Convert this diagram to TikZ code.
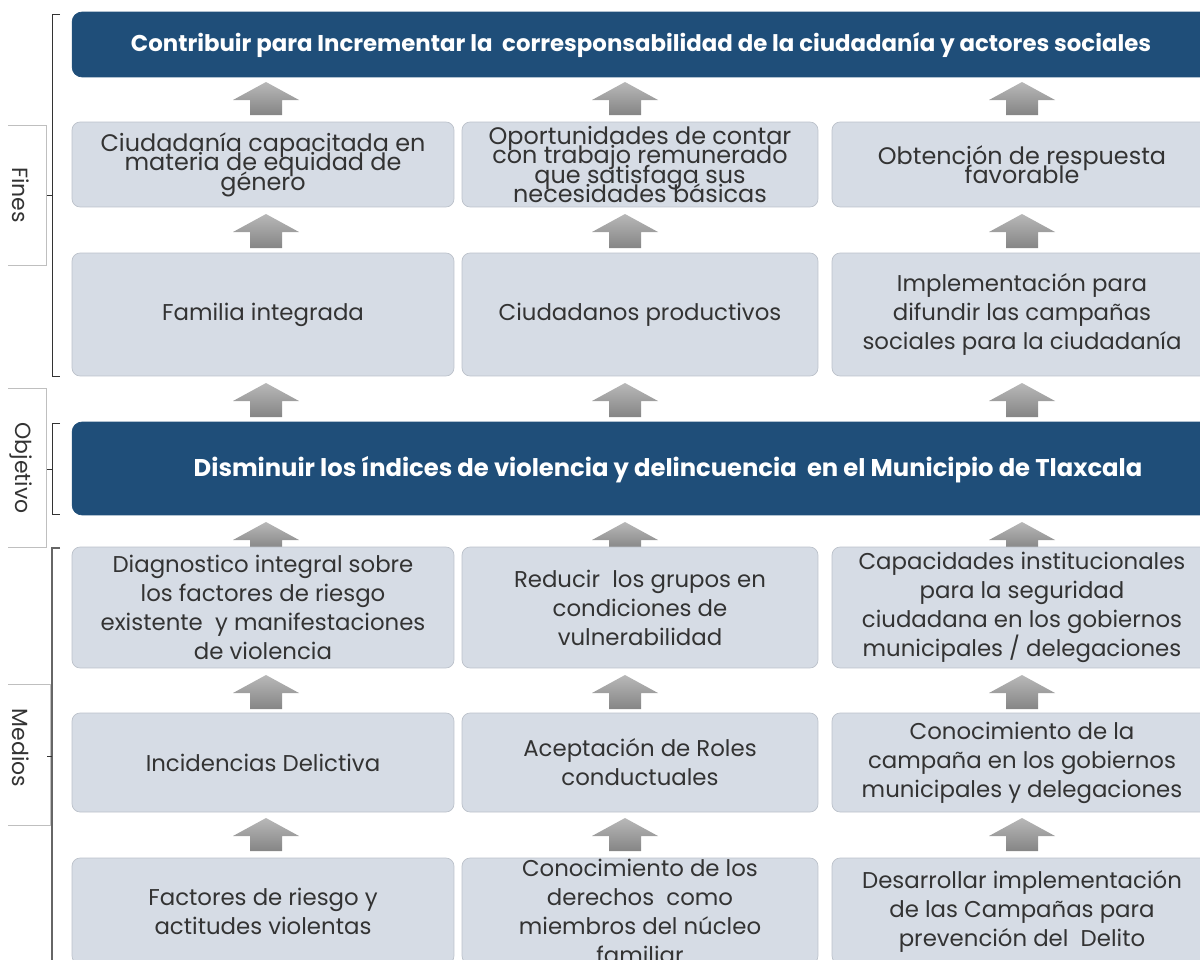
\documentclass[tikz,border=0pt]{standalone}
\usepackage{fontspec}
\setmainfont{Poppins}
\usetikzlibrary{positioning}

\definecolor{bannerblue}{HTML}{1F4E79}
\definecolor{boxfill}{HTML}{D6DCE5}
\definecolor{boxline}{HTML}{BCC2CB}
\definecolor{txtgray}{HTML}{333333}
\definecolor{arrtop}{HTML}{B8B8B8}
\definecolor{arrbot}{HTML}{858585}

\newcommand\tightlines{\lineskiplimit=-20pt\relax}

\tikzset{
  cell/.style={draw=boxline, fill=boxfill, rounded corners=0.16cm, text=txtgray,
    align=center, inner sep=0pt, font=\fontsize{13}{16.5}\selectfont},
  tight/.style={font=\fontsize{13.6}{11.1}\selectfont\tightlines},
  banner/.style={draw=bannerblue, fill=bannerblue, rounded corners=0.2cm},
  bannertext/.style={text=white, font=\bfseries\fontsize{13}{15}\selectfont},
  sidelabel/.style={text=txtgray, rotate=-90, font=\fontsize{12.5}{15}\selectfont},
  frameline/.style={draw=black!25, line width=0.4pt},
  bracket/.style={draw=black!80, line width=0.5pt},
  col1/.style={minimum width=7.64cm},
  col2/.style={minimum width=7.12cm},
  col3/.style={minimum width=7.6cm}
}

\begin{document}
\begin{tikzpicture}[x=0.02cm, y=-0.02cm]
\clip (0,0) rectangle (1200,960);

% block arrows
\foreach \ax in {266,625,1022}
  \foreach \ay/\ab in {82/115, 214/248, 383/417, 522/549, 675/709, 818/851}
    \shade[top color=arrtop, bottom color=arrbot]
      (\ax,\ay) -- (\ax+33,\ay+18) -- (\ax+16,\ay+18) -- (\ax+16,\ab)
      -- (\ax-16,\ab) -- (\ax-16,\ay+18) -- (\ax-33,\ay+18) -- cycle;

% Fines
\node[banner, minimum width=22.8cm, minimum height=1.3cm] (fin) at (642,44.5) {};
\node[bannertext] (fintxt) at (641,45.5) {Contribuir para Incrementar la \ corresponsabilidad de la ciudadanía y actores sociales};

\node[cell, tight, col1, minimum height=1.7cm] (fa1) at (263,164.5)
  {Ciudadanía capacitada en\\materia de equidad de\\género};
\node[cell, tight, col2, minimum height=1.7cm] (fa2) at (640,164.5)
  {Oportunidades de contar\\con trabajo remunerado\\que satisfaga sus\\necesidades básicas};
\node[cell, tight, col3, minimum height=1.7cm] (fa3) at (1022,164.5)
  {Obtención de respuesta\\favorable};

\node[cell, col1, minimum height=2.46cm] (fb1) at (263,314.5) {Familia integrada};
\node[cell, col2, minimum height=2.46cm] (fb2) at (640,314.5) {Ciudadanos productivos};
\node[cell, col3, minimum height=2.46cm] (fb3) at (1022,314.5)
  {Implementación para\\difundir las campañas\\sociales para la ciudadanía};

% Objetivo
\node[banner, minimum width=22.8cm, minimum height=1.86cm] (obj) at (642,468.5) {};
\node[bannertext, font=\bfseries\fontsize{13.8}{15}\selectfont] (objtxt) at (668,469.5) {Disminuir los índices de violencia y delincuencia \ en el Municipio de Tlaxcala};

% Medios
\node[cell, col1, minimum height=2.42cm] (ma1) at (263,607.5)
  {Diagnostico integral sobre\\los factores de riesgo\\existente \ y manifestaciones\\de violencia};
\node[cell, col2, minimum height=2.42cm] (ma2) at (640,607.5)
  {Reducir \ los grupos en\\condiciones de\\vulnerabilidad};
\node[cell, col3, minimum height=2.42cm] (ma3) at (1022,607.5)
  {Capacidades institucionales\\para la seguridad\\ciudadana en los gobiernos\\municipales / delegaciones};

\node[cell, col1, minimum height=1.98cm] (mb1) at (263,762.5) {Incidencias Delictiva};
\node[cell, col2, minimum height=1.98cm] (mb2) at (640,762.5)
  {Aceptación de Roles\\conductuales};
\node[cell, col3, minimum height=1.98cm] (mb3) at (1022,762.5)
  {Conocimiento de la\\campaña en los gobiernos\\municipales y delegaciones};

\node[cell, col1, minimum height=2.12cm] (mc1) at (263,911)
  {Factores de riesgo y\\actitudes violentas};
\node[cell, col2, minimum height=2.12cm] (mc2) at (640,911)
  {Conocimiento de los\\derechos \ como\\miembros del núcleo\\familiar};
\node[cell, col3, minimum height=2.12cm] (mc3) at (1022,911)
  {Desarrollar implementación\\de las Campañas para\\prevención del \ Delito};

% side labels
\draw[frameline] (8,125) -- (46,125) -- (46,265) -- (8,265);
\node[sidelabel] (lfines) at (21,195) {Fines};
\draw[bracket] (60,14) -- (52,14) -- (52,376) -- (60,376);
\draw[bracket] (47,195) -- (52,195);

\draw[frameline] (8,388) -- (46,388) -- (46,547) -- (8,547);
\node[sidelabel] (lobj) at (21,468) {Objetivo};
\draw[bracket] (60,423) -- (52,423) -- (52,514) -- (60,514);
\draw[bracket] (47,469) -- (52,469);

\draw[frameline] (8,684) -- (50,684) -- (50,825) -- (8,825);
\node[sidelabel] (lmed) at (21,748) {Medios};
\draw[bracket, draw=black!60, line width=0.8pt] (60,548) -- (52,548) -- (52,965);
\draw[bracket] (47,756) -- (52,756);

\end{tikzpicture}
\end{document}
